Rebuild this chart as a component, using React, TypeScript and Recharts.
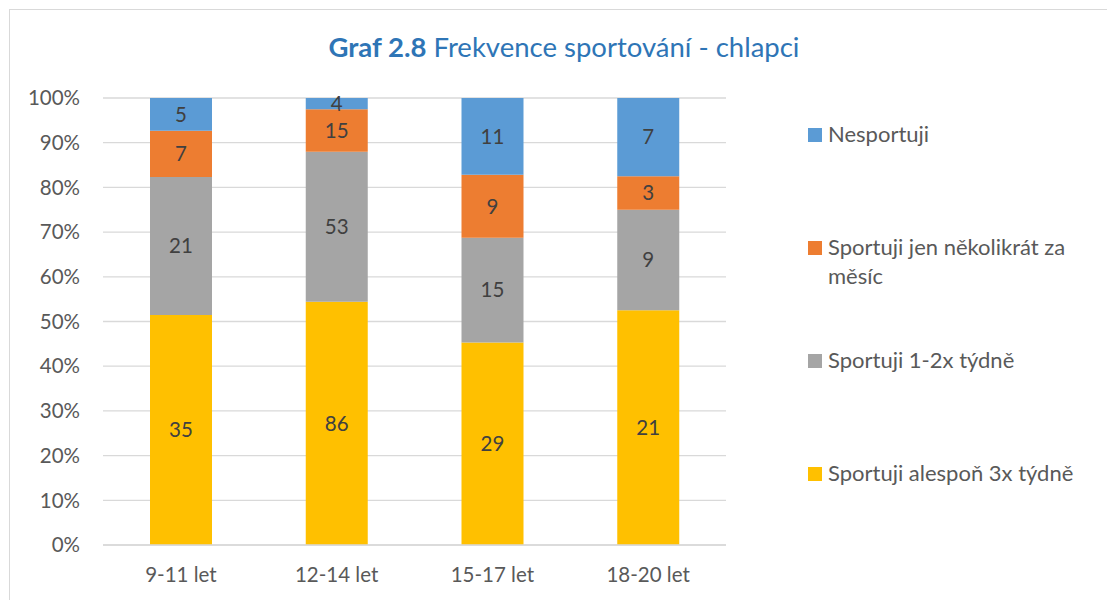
import { BarChart, Bar, XAxis, YAxis, CartesianGrid, LabelList } from "recharts";

const categories = ["9-11 let", "12-14 let", "15-17 let", "18-20 let"];
const alespon3x = [35, 86, 29, 21];
const tydne12x = [21, 53, 15, 9];
const nekolikratMesic = [7, 15, 9, 3];
const nesportuji = [5, 4, 11, 7];
const yTicks = [0, 0.1, 0.2, 0.3, 0.4, 0.5, 0.6, 0.7, 0.8, 0.9, 1];

const series = [
  { key: "a3", name: "Sportuji alespoň 3x týdně", color: "#FFC000" },
  { key: "t12", name: "Sportuji 1-2x týdně", color: "#A5A5A5" },
  { key: "nm", name: "Sportuji jen několikrát za měsíc", color: "#ED7D31" },
  { key: "ns", name: "Nesportuji", color: "#5B9BD5" },
];

const data = categories.map((c, i) => ({
  name: c,
  a3: alespon3x[i],
  t12: tydne12x[i],
  nm: nekolikratMesic[i],
  ns: nesportuji[i],
}));

const FONT = "Lato, 'Open Sans', sans-serif";
const TEXT = "#595959";

// legend order as in the picture (top to bottom), long label wraps
const legendItems = [
  { key: "ns", lines: ["Nesportuji"], color: "#5B9BD5" },
  { key: "nm", lines: ["Sportuji jen několikrát za", "měsíc"], color: "#ED7D31" },
  { key: "t12", lines: ["Sportuji 1-2x týdně"], color: "#A5A5A5" },
  { key: "a3", lines: ["Sportuji alespoň 3x týdně"], color: "#FFC000" },
];

function LegendBox() {
  return (
    <div style={{ position: "absolute", left: 808, top: 120, fontFamily: FONT, fontSize: 22, color: TEXT }}>
      {legendItems.map((it) => (
        <div key={it.key} style={{ height: 113, display: "flex", alignItems: "flex-start" }}>
          <div style={{ width: 14, height: 14, background: it.color, marginTop: 8, marginRight: 6 }} />
          <div style={{ lineHeight: "29px", marginTop: -1 }}>
            {it.lines.map((l) => (
              <div key={l}>{l}</div>
            ))}
          </div>
        </div>
      ))}
    </div>
  );
}

export default function App() {
  return (
    <div style={{ position: "absolute", left: 0, top: 0, width: 1107, height: 600, background: "#fff", overflow: "hidden" }}>
      <div style={{ position: "absolute", left: 9, top: 9, width: 1200, height: 700, border: "1px solid #D9D9D9" }} />
      <div
        style={{
          position: "absolute",
          left: 0,
          width: 1128,
          top: 30,
          textAlign: "center",
          fontFamily: FONT,
          fontSize: 27.5,
          color: "#2E75B6",
        }}
      >
        <b>Graf 2.8</b> Frekvence sportování - chlapci
      </div>
      <BarChart
        width={1107}
        height={600}
        data={data}
        stackOffset="expand"
        margin={{ top: 98, right: 381, left: 0, bottom: 0 }}
        style={{ position: "absolute", left: 0, top: 0 }}
      >
        <CartesianGrid vertical={false} stroke="#D9D9D9" strokeWidth={1.3} />
        <XAxis
          dataKey="name"
          height={55}
          axisLine={{ stroke: "#D9D9D9", strokeWidth: 1.3 }}
          tickLine={false}
          tickSize={0}
          tickMargin={22}
          tick={{ fill: TEXT, fontSize: 20.5, fontFamily: FONT }}
        />
        <YAxis
          width={103}
          ticks={yTicks}
          domain={[0, 1]}
          axisLine={false}
          tickLine={false}
          tickSize={0}
          tickMargin={23}
          tickFormatter={(v: number) => `${Math.round(v * 100)}%`}
          tick={{ fill: TEXT, fontSize: 20.5, fontFamily: FONT }}
        />
        {series.map((s) => (
          <Bar key={s.key} dataKey={s.key} name={s.name} stackId="a" fill={s.color} barSize={62} isAnimationActive={false}>
            <LabelList dataKey={s.key} position="center" fill="#404040" fontSize={20.5} fontFamily={FONT} />
          </Bar>
        ))}
      </BarChart>
      <LegendBox />
    </div>
  );
}
